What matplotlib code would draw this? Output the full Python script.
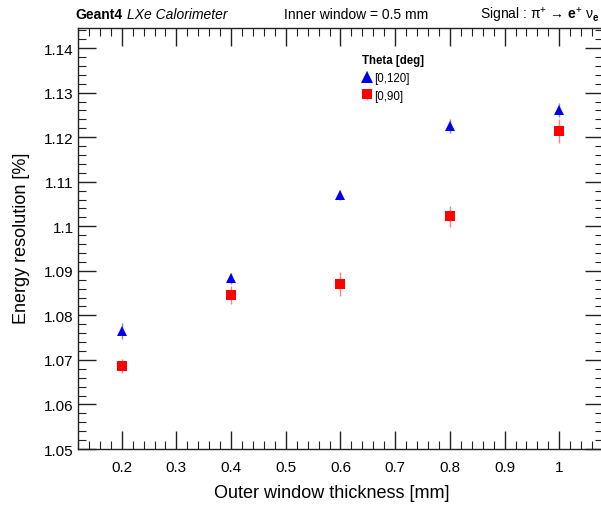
import matplotlib
matplotlib.use("Agg")
import matplotlib.pyplot as plt
from matplotlib.ticker import MultipleLocator, FixedFormatter, FixedLocator

plt.rcParams['font.family'] = ['Liberation Sans', 'DejaVu Sans']
plt.rcParams['mathtext.fontset'] = 'custom'
plt.rcParams['mathtext.rm'] = 'Liberation Sans'
plt.rcParams['mathtext.it'] = 'Liberation Sans:italic'
plt.rcParams['mathtext.bf'] = 'Liberation Sans:bold'
plt.rcParams['mathtext.sf'] = 'Liberation Sans'
plt.rcParams['mathtext.fallback'] = 'stixsans'

thickness = [0.2, 0.4, 0.6, 0.8, 1.0]
res_0_120 = [1.0765, 1.0883, 1.1070, 1.1225, 1.1261]
err_0_120 = [0.0018, 0.0013, 0.0011, 0.0015, 0.0015]
res_0_90 = [1.0687, 1.0845, 1.0870, 1.1022, 1.1214]
err_0_90 = [0.0016, 0.0020, 0.0027, 0.0023, 0.0027]

xticks = [0.2, 0.3, 0.4, 0.5, 0.6, 0.7, 0.8, 0.9, 1.0]
xtick_labels = ['0.2', '0.3', '0.4', '0.5', '0.6', '0.7', '0.8', '0.9', '1']
yticks = [1.05, 1.06, 1.07, 1.08, 1.09, 1.10, 1.11, 1.12, 1.13, 1.14]
ytick_labels = ['1.05', '1.06', '1.07', '1.08', '1.09', '1.1', '1.11', '1.12', '1.13', '1.14']

W, H = 601, 506
fig = plt.figure(figsize=(W / 100, H / 100), dpi=100)
x0, x1, y0, y1 = 78, 603, 29, 450
ax = fig.add_axes([x0 / W, 1 - y1 / H, (x1 - x0) / W, (y1 - y0) / H])

ax.errorbar(thickness, res_0_120, yerr=err_0_120, fmt='^', color='#0000ee',
            ecolor='#7f7fff', elinewidth=1.0, capsize=0, markersize=7.5,
            markeredgewidth=0, label='[0,120]', zorder=3)
ax.errorbar(thickness, res_0_90, yerr=err_0_90, fmt='s', color='#ff0000',
            ecolor='#ff8080', elinewidth=1.0, capsize=0, markersize=7,
            markeredgewidth=0, label='[0,90]', zorder=3)

ax.set_xlim(0.12, 1.08)
ax.set_ylim(1.05, 1.1445)

ax.xaxis.set_major_locator(FixedLocator(xticks))
ax.xaxis.set_major_formatter(FixedFormatter(xtick_labels))
ax.xaxis.set_minor_locator(MultipleLocator(0.02))
ax.yaxis.set_major_locator(FixedLocator(yticks))
ax.yaxis.set_major_formatter(FixedFormatter(ytick_labels))
ax.yaxis.set_minor_locator(MultipleLocator(0.002))

ax.tick_params(which='both', direction='in', top=True, right=True,
               color='#222222', labelsize=11)
ax.tick_params(which='major', length=13, width=1.0)
ax.tick_params(which='minor', length=6, width=0.8)
ax.tick_params(axis='x', pad=8)
ax.tick_params(axis='y', pad=3)
for s in ax.spines.values():
    s.set_linewidth(1.0)
    s.set_color('#222222')

fig.text(332 / W, 1 - 494 / H, 'Outer window thickness [mm]', ha='center',
         va='center', fontsize=13)
fig.text(22 / W, 1 - 238 / H, 'Energy resolution [%]', ha='center',
         va='center', rotation=90, fontsize=13)

# header line
fig.text(75 / W, 1 - 15 / H, 'Geant4', ha='left', va='center',
         fontsize=10, fontweight='bold')
fig.text(127 / W, 1 - 15 / H, 'LXe Calorimeter', ha='left', va='center',
         fontsize=10, fontstyle='italic')
fig.text(356 / W, 1 - 15 / H, 'Inner window = 0.5 mm', ha='center',
         va='center', fontsize=10)
fig.text(599 / W, 1 - 15 / H,
         r'Signal : $\mathrm{\pi}^{+}$ → $\mathbf{e}^{+}$ $\mathrm{\nu}_{\mathbf{e}}$',
         ha='right', va='center', fontsize=10)

leg = ax.legend(loc='upper left',
                bbox_to_anchor=((362 - x0) / (x1 - x0), (y1 - 55) / (y1 - y0)),
                title='Theta [deg]', frameon=False, fontsize=8.3,
                handlelength=0.9, handletextpad=0.15, borderaxespad=0,
                borderpad=0, labelspacing=0.5, markerscale=1.1,
                alignment='left')
leg.get_title().set_fontweight('bold')
leg.get_title().set_fontsize(8.3)

fig.savefig('out.png', dpi=100)
